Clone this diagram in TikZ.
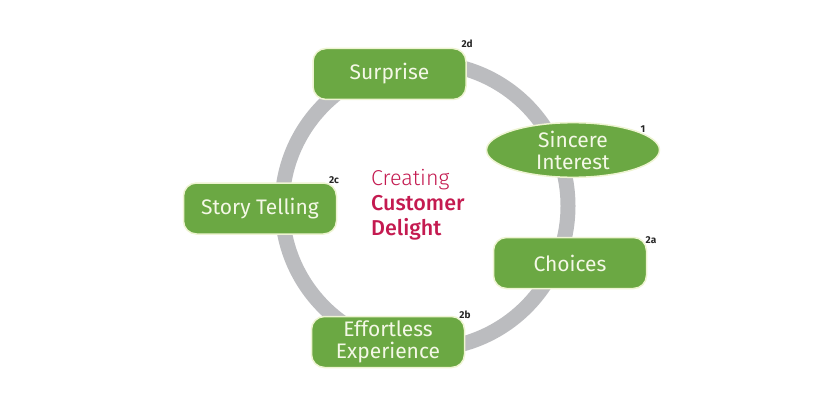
\documentclass[tikz,border=0pt]{standalone}
\usepackage{fontspec}
\setmainfont{Fira Sans}
\newfontfamily\lightfont{Fira Sans Light}
\newfontfamily\medfont{Fira Sans Medium}
\usetikzlibrary{shapes.geometric}
\definecolor{leaf}{HTML}{6BA843}
\definecolor{rim}{HTML}{EEF4D2}
\definecolor{ringgray}{HTML}{BBBCBF}
\definecolor{delight}{HTML}{C41A50}
\definecolor{cream}{HTML}{F4F8E6}
\tikzset{
  box/.style={draw=rim, line width=1.5pt, fill=leaf, rounded corners=13pt,
    minimum width=153pt, minimum height=51pt, inner sep=0pt,
    text=cream, font=\fontsize{21}{22}\selectfont, align=center},
  oval/.style={box, ellipse, rounded corners=0pt, minimum width=173pt, minimum height=53pt},
  tag/.style={font=\bfseries\fontsize{10}{11}\selectfont, text=black!85, inner sep=0pt}
}
\begin{document}
\begin{tikzpicture}[x=1pt, y=-1pt]
    \def\R{143}
    \useasboundingbox[fill=white] (0,0) rectangle (840,409);

    % ring
    \coordinate (C) at (425,206);
    \draw[ringgray, line width=15pt] (C) circle (\R);

    % centre text
    \node[anchor=north west, inner sep=0pt, text=delight, align=left,
      font=\fontsize{21.5}{25}\selectfont] (title) at (371,169)
      {{\lightfont Creating}\\{\medfont Customer}\\{\medfont Delight}};

    % stages
    \node[box] (surprise) at (389.5,74) {Surprise};
    \node[oval] (interest) at (573,150) {Sincere\\Interest};
    \node[box] (story) at (260,208.5) {Story Telling};
    \node[box] (choices) at (570,263) {Choices};
    \node[box] (effortless) at (388,342) {Effortless\\Experience};

    % numbers
    \node[tag] at (467,44) {2d};
    \node[tag] at (643,129) {1};
    \node[tag] at (334,180) {2c};
    \node[tag] at (651,240) {2a};
    \node[tag] at (465,315) {2b};
\end{tikzpicture}
\end{document}
